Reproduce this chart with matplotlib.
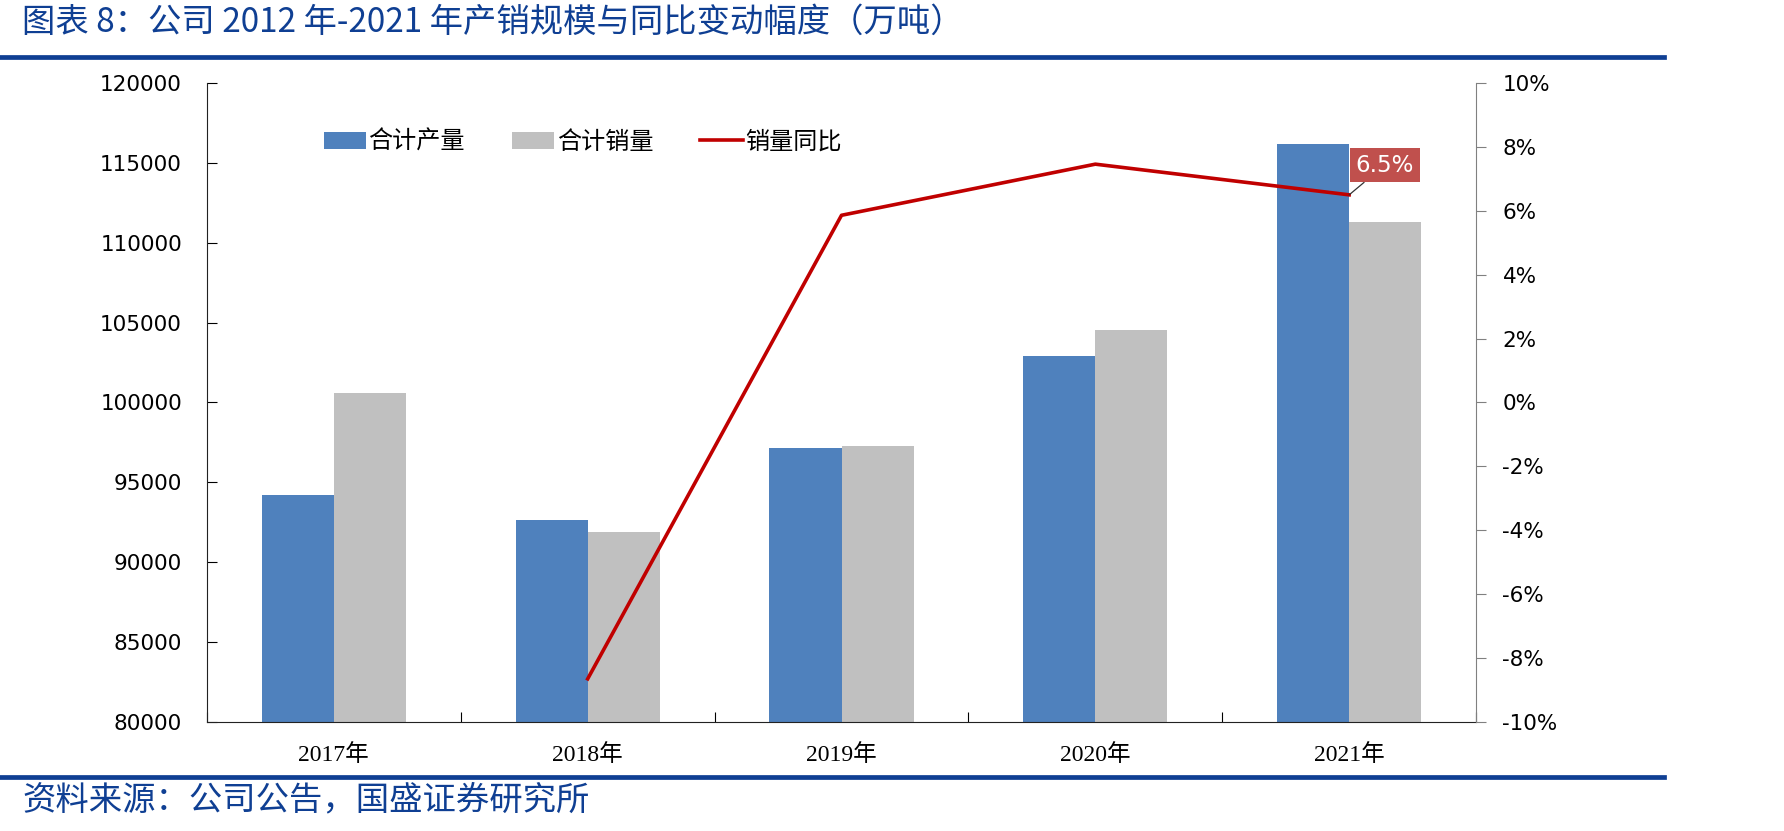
import numpy as np
import matplotlib
matplotlib.use('Agg')
import matplotlib.pyplot as plt
from matplotlib.lines import Line2D

plt.rcParams['font.family'] = ['DejaVu Sans', 'Noto Sans CJK SC']

years = ['2017年', '2018年', '2019年', '2020年', '2021年']
production = [94200, 92650, 97120, 102900, 116200]
sales = [100600, 91890, 97280, 104540, 111300]
sales_yoy = [np.nan, -8.65, 5.86, 7.46, 6.5]

blue = '#4f81bd'
grey = '#c0c0c0'
red = '#c00000'
navy = '#0f3f93'
cjk = ['Noto Sans CJK SC', 'DejaVu Sans']

fig = plt.figure(figsize=(17.84, 8.31), dpi=100)
ax = fig.add_axes([0.116, 0.1312, 0.7114, 0.7689])

x = np.arange(len(years))
w = 0.284
ax.bar(x - w / 2, production, w, color=blue, label='合计产量', zorder=2)
ax.bar(x + w / 2, sales, w, color=grey, label='合计销量', zorder=2)
ax.set_xlim(-0.5, len(years) - 0.5)
ax.set_ylim(80000, 120000)
ax.set_yticks(np.arange(80000, 120001, 5000))
ax.tick_params(axis='y', direction='in', length=7, labelsize=15.5, pad=18)

# category boundary ticks, labels at centres
ax.set_xticks(np.arange(-0.5, len(years), 1.0))
ax.set_xticklabels([])
ax.set_xticks(x, minor=True)
ax.set_xticklabels(years, minor=True, fontsize=17,
                   family=['Liberation Serif', 'Noto Sans CJK SC'])
ax.tick_params(axis='x', which='major', direction='in', length=7)
ax.tick_params(axis='x', which='minor', length=0, pad=16)
ax.spines['top'].set_visible(False)
ax.spines['right'].set_visible(False)
ax.spines['left'].set_color('#222222')
ax.spines['bottom'].set_color('#222222')

ax2 = ax.twinx()
ax2.plot(x, sales_yoy, color=red, lw=2.6, label='销量同比', zorder=3)
ax2.set_ylim(-10, 10)
ax2.set_yticks(np.arange(-10, 11, 2))
ax2.set_yticklabels([f'{v}%' for v in range(-10, 11, 2)])
ax2.tick_params(axis='y', direction='out', length=7, color='#808080',
                labelsize=15.5, pad=12)
ax2.spines['top'].set_visible(False)
ax2.spines['left'].set_visible(False)
ax2.spines['bottom'].set_visible(False)
ax2.spines['right'].set_color('#808080')

ax2.annotate('6.5%', xy=(x[-1], sales_yoy[-1]), xytext=(4.14, 7.43),
             ha='center', va='center', color='white', fontsize=16.5,
             bbox=dict(boxstyle='square,pad=0.25', fc='#c0504d', ec='none'),
             arrowprops=dict(arrowstyle='-', color='#333333', lw=0.9,
                             shrinkA=0, shrinkB=0))

h1, l1 = ax.get_legend_handles_labels()
h2, l2 = ax2.get_legend_handles_labels()
ax2.legend(h1 + h2, l1 + l2, loc='center left', bbox_to_anchor=(0.092, 0.908),
           ncol=3, frameon=False, borderaxespad=0, borderpad=0,
           handlelength=1.75, handleheight=0.68, handletextpad=0.1,
           columnspacing=1.95, prop={'family': cjk, 'size': 17.4})

# title, rules and source
fig.text(0.0123, 0.973, '图表 8：公司 2012 年-2021 年产销规模与同比变动幅度（万吨）',
         fontsize=24, color=navy, family=cjk, style='italic',
         va='center', ha='left')
fig.add_artist(Line2D([0, 0.933], [1 - 57 / 831] * 2, color=navy, lw=3.4))
fig.add_artist(Line2D([0, 0.933], [1 - 777 / 831] * 2, color=navy, lw=3.4))
fig.text(0.0123, 1 - 800 / 831, '资料来源：公司公告，国盛证券研究所',
         fontsize=24, color=navy, family=cjk, style='italic',
         va='center', ha='left')

fig.savefig('out.png', dpi=100)
